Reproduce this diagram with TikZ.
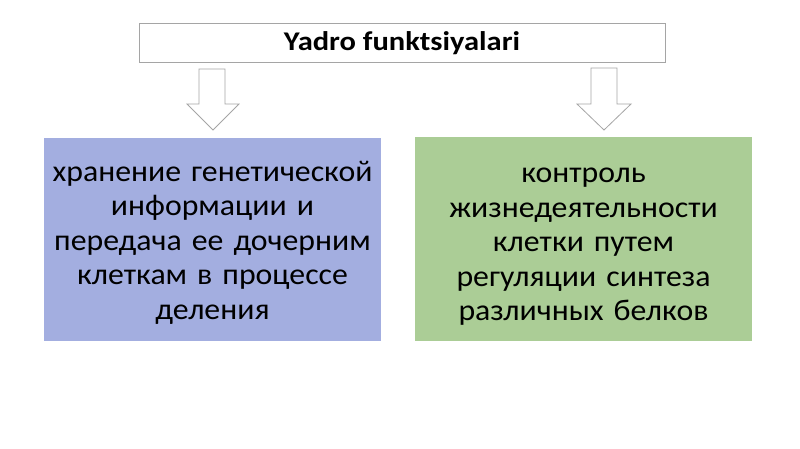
\documentclass[tikz,border=0pt]{standalone}
\usepackage{fontspec}
\setmainfont[FakeStretch=1.06,WordSpace=0.75]{Carlito}
\newfontfamily\titlefont[FakeStretch=1.13]{Carlito}
\begin{document}
\begin{tikzpicture}[x=1pt,y=-1pt]
\definecolor{bluefill}{RGB}{163,174,224}
\definecolor{greenfill}{RGB}{171,205,150}
\definecolor{edgegray}{RGB}{165,165,165}
\tikzset{
  titlebox/.style={draw=edgegray,line width=0.8pt,fill=white,minimum width=526pt,minimum height=39pt,inner sep=0pt,font=\titlefont\fontsize{27}{30}\selectfont\bfseries},
  infobox/.style={draw=none,minimum width=337pt,minimum height=203pt,inner sep=0pt},
  bodytext/.style={inner sep=0pt,align=center,text width=335pt,font=\fontsize{30}{34.5}\selectfont},
  blockarrow/.style={draw=edgegray,line width=0.8pt,fill=white,line join=miter}
}
\useasboundingbox (0,0) rectangle (800,449);
\fill[white] (0,0) rectangle (800,449);
\node[titlebox] (title) at (402,43) {Yadro funktsiyalari};
\node[infobox,fill=bluefill] (left) at (212.5,239.5) {};
\node[infobox,fill=greenfill] (right) at (583.5,239) {};
\node[bodytext] (lefttext) at ([yshift=-3pt]left.center) {хранение генетической\\информации и\\передача ее дочерним\\клеткам в процессе\\деления};
\node[bodytext] (righttext) at ([yshift=-8pt]right.center) {контроль\\жизнедеятельности\\клетки путем\\регуляции синтеза\\различных белков};
\draw[blockarrow] (199,69) -- (225,69) -- (225,104) -- (239,104) -- (213,130) -- (187,104) -- (199,104) -- cycle;
\draw[blockarrow] (591,68) -- (617,68) -- (617,104) -- (631,104) -- (604,130) -- (577,104) -- (591,104) -- cycle;
\end{tikzpicture}
\end{document}
